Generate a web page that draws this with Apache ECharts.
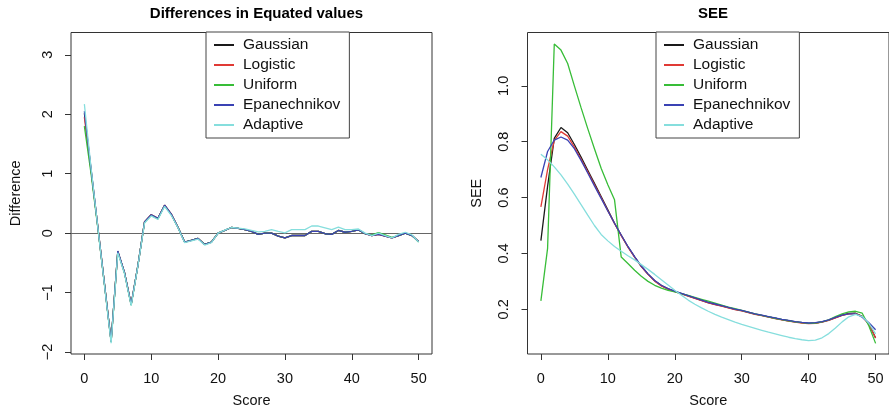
<!DOCTYPE html>
<html>
<head>
<meta charset="utf-8">
<script src="https://cdn.jsdelivr.net/npm/echarts@6/dist/echarts.min.js"></script>
<style>html,body{margin:0;padding:0;background:#fff}#c{width:889px;height:413px}</style>
</head>
<body>
<div id="c"></div>
<script>
// ---------- data ----------
var scores = [];
for (var s = 0; s <= 50; s++) scores.push(s);

var seriesNames = ['Gaussian', 'Logistic', 'Uniform', 'Epanechnikov', 'Adaptive'];
var xTicks = [0, 10, 20, 30, 40, 50];
var diffTicks = [-2, -1, 0, 1, 2, 3];
var seeTicks = [0.2, 0.4, 0.6, 0.8, 1.0];

// Differences in equated values
var diffGaussian = [2.02,1.07,0.12,-0.85,-1.82,-0.31,-0.66,-1.20,-0.55,0.19,0.31,0.25,0.47,0.32,0.10,-0.15,-0.12,-0.09,-0.19,-0.15,0.00,0.045,0.095,0.08,0.06,0.03,-0.02,0.00,0.00,-0.05,-0.08,-0.04,-0.04,-0.04,0.03,0.03,-0.01,-0.02,0.045,0.015,0.03,0.055,-0.01,-0.04,-0.02,-0.05,-0.08,-0.04,0.00,-0.04,-0.14];
var diffLogistic = [1.95,1.05,0.12,-0.85,-1.82,-0.31,-0.66,-1.20,-0.55,0.19,0.31,0.25,0.47,0.32,0.10,-0.15,-0.12,-0.09,-0.19,-0.15,0.00,0.045,0.095,0.08,0.06,0.03,-0.02,0.00,0.00,-0.05,-0.08,-0.04,-0.04,-0.04,0.03,0.03,-0.01,-0.02,0.045,0.015,0.03,0.055,-0.01,-0.04,-0.02,-0.05,-0.08,-0.04,0.00,-0.04,-0.14];
var diffUniform = [1.80,1.00,0.10,-0.86,-1.83,-0.31,-0.67,-1.21,-0.55,0.18,0.30,0.24,0.46,0.31,0.10,-0.15,-0.12,-0.09,-0.19,-0.15,0.00,0.045,0.095,0.08,0.06,0.03,-0.02,0.00,0.00,-0.05,-0.08,-0.04,-0.04,-0.04,0.03,0.03,-0.01,-0.02,0.045,0.015,0.03,0.055,-0.01,-0.03,0.01,-0.03,-0.07,-0.04,0.00,-0.04,-0.15];
var diffEpan = [2.05,1.08,0.12,-0.85,-1.82,-0.30,-0.66,-1.20,-0.55,0.19,0.31,0.25,0.47,0.32,0.10,-0.15,-0.12,-0.09,-0.19,-0.15,0.00,0.045,0.095,0.08,0.06,0.03,-0.02,0.00,0.00,-0.05,-0.08,-0.04,-0.04,-0.04,0.03,0.03,-0.01,-0.02,0.045,0.015,0.03,0.055,-0.01,-0.04,-0.02,-0.05,-0.08,-0.04,0.00,-0.04,-0.14];
var diffAdaptive = [2.17,1.10,0.11,-0.87,-1.85,-0.33,-0.68,-1.22,-0.56,0.17,0.29,0.23,0.45,0.30,0.09,-0.16,-0.13,-0.10,-0.20,-0.16,0.00,0.05,0.095,0.085,0.07,0.045,0.02,0.03,0.06,0.03,0.005,0.06,0.06,0.06,0.12,0.12,0.09,0.06,0.10,0.06,0.06,0.07,0.00,-0.04,0.00,-0.04,-0.08,-0.02,0.015,-0.03,-0.15];

// SEE
var seeGaussian = [0.446,0.64,0.812,0.851,0.832,0.79,0.745,0.698,0.651,0.604,0.556,0.508,0.465,0.424,0.388,0.354,0.326,0.302,0.285,0.273,0.264,0.256,0.248,0.24,0.232,0.224,0.218,0.212,0.206,0.2,0.195,0.189,0.183,0.178,0.173,0.168,0.163,0.159,0.155,0.152,0.15,0.151,0.155,0.161,0.17,0.179,0.185,0.186,0.175,0.148,0.097];
var seeLogistic = [0.567,0.70,0.805,0.836,0.82,0.781,0.737,0.692,0.646,0.6,0.553,0.507,0.464,0.423,0.387,0.353,0.325,0.301,0.284,0.272,0.263,0.255,0.247,0.239,0.231,0.223,0.217,0.211,0.205,0.199,0.194,0.188,0.182,0.177,0.172,0.167,0.162,0.158,0.154,0.151,0.149,0.15,0.154,0.16,0.169,0.178,0.184,0.185,0.174,0.146,0.097];
var seeUniform = [0.23,0.418,1.15,1.128,1.08,1.0,0.922,0.847,0.775,0.705,0.646,0.592,0.387,0.364,0.34,0.318,0.3,0.286,0.276,0.268,0.262,0.256,0.25,0.243,0.236,0.229,0.222,0.215,0.208,0.202,0.196,0.19,0.184,0.178,0.173,0.168,0.163,0.159,0.155,0.152,0.15,0.151,0.155,0.162,0.174,0.184,0.191,0.193,0.186,0.14,0.078];
var seeEpan = [0.672,0.765,0.806,0.817,0.806,0.775,0.733,0.688,0.642,0.597,0.552,0.508,0.466,0.425,0.389,0.355,0.327,0.303,0.286,0.274,0.265,0.257,0.249,0.241,0.233,0.225,0.219,0.213,0.207,0.201,0.196,0.19,0.184,0.179,0.174,0.169,0.164,0.16,0.156,0.153,0.151,0.152,0.156,0.162,0.171,0.179,0.184,0.184,0.172,0.152,0.127];
var seeAdaptive = [0.755,0.735,0.71,0.681,0.648,0.612,0.575,0.537,0.5,0.468,0.445,0.425,0.408,0.392,0.377,0.36,0.343,0.325,0.306,0.287,0.268,0.25,0.233,0.218,0.205,0.193,0.182,0.172,0.163,0.154,0.146,0.139,0.132,0.125,0.118,0.112,0.106,0.1,0.095,0.091,0.088,0.09,0.098,0.113,0.133,0.155,0.173,0.182,0.174,0.15,0.112];

var colors = ['#1a1a1a', '#e03a35', '#38bd38', '#3a42b4', '#86dedd'];

// ---------- chart ----------
var FONT = '"Liberation Sans", Arial, Helvetica, sans-serif';
function pairs(vals) { return scores.map(function (x, i) { return [x, vals[i]]; }); }
function minusFmt(v) { return String(v).replace('-', '\u2212'); }

var diffSets = [diffGaussian, diffLogistic, diffUniform, diffEpan, diffAdaptive];
var seeSets = [seeGaussian, seeLogistic, seeUniform, seeEpan, seeAdaptive];

function xAxisCfg(gi) {
  return {
    gridIndex: gi, type: 'value', min: -2, max: 52,
    name: 'Score', nameLocation: 'middle', nameGap: 39,
    nameTextStyle: { fontSize: 14.5, color: '#111', fontFamily: FONT },
    axisLine: { show: false, onZero: false },
    axisTick: { show: true, length: 6, lineStyle: { color: '#333' }, customValues: xTicks },
    axisLabel: { show: true, margin: 17, fontSize: 14.5, color: '#111', fontFamily: FONT, customValues: xTicks },
    splitLine: { show: false }
  };
}
function yAxisCfg(gi, min, max, ticks, name, gap, fmt) {
  return {
    gridIndex: gi, type: 'value', min: min, max: max,
    name: name, nameLocation: 'middle', nameGap: gap, nameRotate: 90,
    nameTextStyle: { fontSize: 14.5, color: '#111', fontFamily: FONT },
    axisLine: { show: false, onZero: false },
    axisTick: { show: true, length: 6, lineStyle: { color: '#333' }, customValues: ticks },
    axisLabel: { show: true, rotate: 90, margin: 16, fontSize: 14.5, color: '#111', fontFamily: FONT, customValues: ticks, formatter: fmt },
    splitLine: { show: false }
  };
}

var series = [];
seriesNames.forEach(function (n, i) {
  var sd = {
    name: n, type: 'line', xAxisIndex: 0, yAxisIndex: 0,
    data: pairs(diffSets[i]), showSymbol: false, symbol: 'none',
    lineStyle: { width: 1.3, color: colors[i] }, itemStyle: { color: colors[i] },
    z: 3 + i
  };
  if (i === 0) {
    sd.markLine = {
      silent: true, symbol: 'none', label: { show: false },
      lineStyle: { color: '#666', width: 1.2, type: 'solid' },
      data: [{ yAxis: 0 }], z: 1
    };
  }
  series.push(sd);
  series.push({
    name: n, type: 'line', xAxisIndex: 1, yAxisIndex: 1,
    data: pairs(seeSets[i]), showSymbol: false, symbol: 'none',
    lineStyle: { width: 1.3, color: colors[i] }, itemStyle: { color: colors[i] },
    z: 3 + i
  });
});

function legendCfg(left) {
  return {
    data: seriesNames, orient: 'vertical', left: left, top: 32,
    icon: 'rect', itemWidth: 20, itemHeight: 2, itemGap: 0,
    padding: [3, 9, 3, 8],
    backgroundColor: '#fff', borderColor: '#444', borderWidth: 1, borderRadius: 0,
    textStyle: { fontSize: 15.5, lineHeight: 20, color: '#111', fontFamily: FONT, padding: [0, 0, 0, 4] },
    selectedMode: false
  };
}

var chart = echarts.init(document.getElementById('c'), null, { renderer: 'canvas' });
chart.setOption({
  animation: false,
  backgroundColor: '#fff',
  title: [
    { text: 'Differences in Equated values', left: 251.5, top: 1, textAlign: 'center',
      textStyle: { fontSize: 15, fontWeight: 'bold', color: '#000', fontFamily: FONT } },
    { text: 'SEE', left: 708, top: 1, textAlign: 'center',
      textStyle: { fontSize: 15, fontWeight: 'bold', color: '#000', fontFamily: FONT } }
  ],
  legend: [legendCfg(206), legendCfg(656)],
  grid: [
    { left: 71, top: 32.5, width: 361, height: 323.5, show: true, borderColor: '#333', borderWidth: 1, backgroundColor: 'transparent' },
    { left: 527.5, top: 32.5, width: 363, height: 323.5, show: true, borderColor: '#333', borderWidth: 1, backgroundColor: 'transparent' }
  ],
  xAxis: [xAxisCfg(0), xAxisCfg(1)],
  yAxis: [
    yAxisCfg(0, -2.033, 3.375, diffTicks, 'Difference', 48, minusFmt),
    yAxisCfg(1, 0.04, 1.191, seeTicks, 'SEE', 43, function (v) { return v.toFixed(1); })
  ],
  series: series
});
</script>
</body>
</html>
